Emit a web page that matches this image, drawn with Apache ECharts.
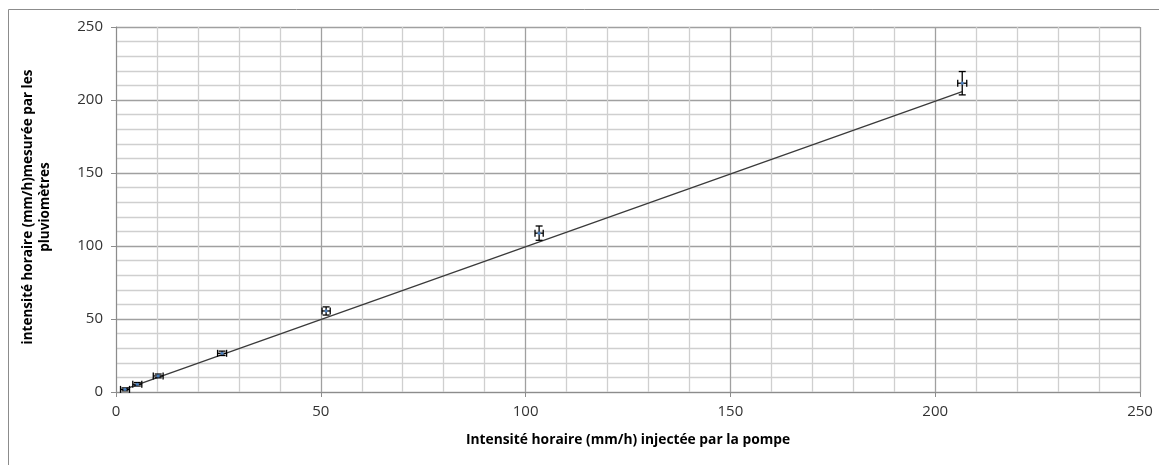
<!DOCTYPE html>
<html>
<head>
<meta charset="utf-8">
<script src="https://cdn.jsdelivr.net/npm/echarts@6/dist/echarts.min.js"></script>
<style>html,body{margin:0;padding:0;background:#fff}#c{width:1159px;height:465px}</style>
</head>
<body>
<div id="c"></div>
<script>
// Data
const xValues = [2.2, 5.2, 10.3, 25.9, 51.3, 103.3, 206.6];
const yValues = [1.8, 5.3, 11.0, 26.5, 55.5, 108.8, 211.5];
const xErrors = [1.1, 1.1, 1.2, 1.1, 1.0, 1.0, 1.1];
const yErrors = [1.0, 1.2, 1.3, 1.5, 2.8, 4.9, 8.0];
const trendX = [2.2, 206.6];
const trendY = [2.0, 205.7];
const xAxisTitle = 'Intensité horaire (mm/h) injectée par la pompe';
const yAxisTitle = 'intensité horaire (mm/h)mesurée par les\npluviomètres';

const points = xValues.map((x, i) => [x, yValues[i], xErrors[i], yErrors[i]]);
const trend = trendX.map((x, i) => [x, trendY[i]]);

const FONT = '"Open Sans", "Noto Sans", sans-serif';
const chart = echarts.init(document.getElementById('c'), null, {renderer: 'canvas'});

function axis(isX) {
  return {
    type: 'value', min: 0, max: 250, interval: 50,
    axisLine: {show: true, onZero: false, lineStyle: {color: '#8c8c8c', width: 1}},
    axisTick: {show: true, length: 5, lineStyle: {color: '#8c8c8c'}},
    minorTick: {show: false, splitNumber: 5},
    splitLine: {show: true, lineStyle: {color: '#a0a0a0', width: 1.3}},
    minorSplitLine: {show: true, lineStyle: {color: '#cfcfcf', width: 1.3}},
    axisLabel: {color: '#333', fontFamily: FONT, fontSize: 15, margin: isX ? 12 : 13}
  };
}

chart.setOption({
  animation: false,
  grid: {left: 116, right: 19, top: 27, bottom: 73, containLabel: false},
  xAxis: axis(true),
  yAxis: axis(false),
  graphic: [
    {type: 'rect', shape: {x: 8.5, y: 9.5, width: 1200, height: 500}, style: {fill: 'none', stroke: '#8c8c8c', lineWidth: 1}, silent: true, z: -1},
    {type: 'text', x: 628, y: 440, style: {text: xAxisTitle, font: 'bold 13.8px ' + FONT, fill: '#000', textAlign: 'center', textVerticalAlign: 'middle'}},
    {type: 'text', x: 37, y: 207, rotation: Math.PI / 2, style: {text: yAxisTitle, font: 'bold 13.5px ' + FONT, fill: '#000', textAlign: 'center', textVerticalAlign: 'middle', lineHeight: 17}}
  ],
  series: [
    {
      type: 'line', data: trend, symbol: 'none',
      lineStyle: {color: '#3a3a3a', width: 1.3}, z: 2
    },
    {
      type: 'custom', data: points, z: 3,
      renderItem: function (params, api) {
        const x = api.value(0), y = api.value(1), ex = api.value(2), ey = api.value(3);
        const c = api.coord([x, y]);
        const l = api.coord([x - ex, y]), r = api.coord([x + ex, y]);
        const t = api.coord([x, y + ey]), b = api.coord([x, y - ey]);
        const st = {stroke: '#000', lineWidth: 1.3};
        const cap = 3.5;
        return {type: 'group', children: [
          {type: 'line', shape: {x1: l[0], y1: c[1], x2: r[0], y2: c[1]}, style: st},
          {type: 'line', shape: {x1: l[0], y1: c[1] - cap, x2: l[0], y2: c[1] + cap}, style: st},
          {type: 'line', shape: {x1: r[0], y1: c[1] - cap, x2: r[0], y2: c[1] + cap}, style: st},
          {type: 'line', shape: {x1: c[0], y1: t[1], x2: c[0], y2: b[1]}, style: st},
          {type: 'line', shape: {x1: c[0] - cap, y1: t[1], x2: c[0] + cap, y2: t[1]}, style: st},
          {type: 'line', shape: {x1: c[0] - cap, y1: b[1], x2: c[0] + cap, y2: b[1]}, style: st},
          {type: 'circle', shape: {cx: c[0], cy: c[1], r: 1.6}, style: {fill: '#4a7ebb'}}
        ]};
      }
    }
  ]
});
</script>
</body>
</html>
